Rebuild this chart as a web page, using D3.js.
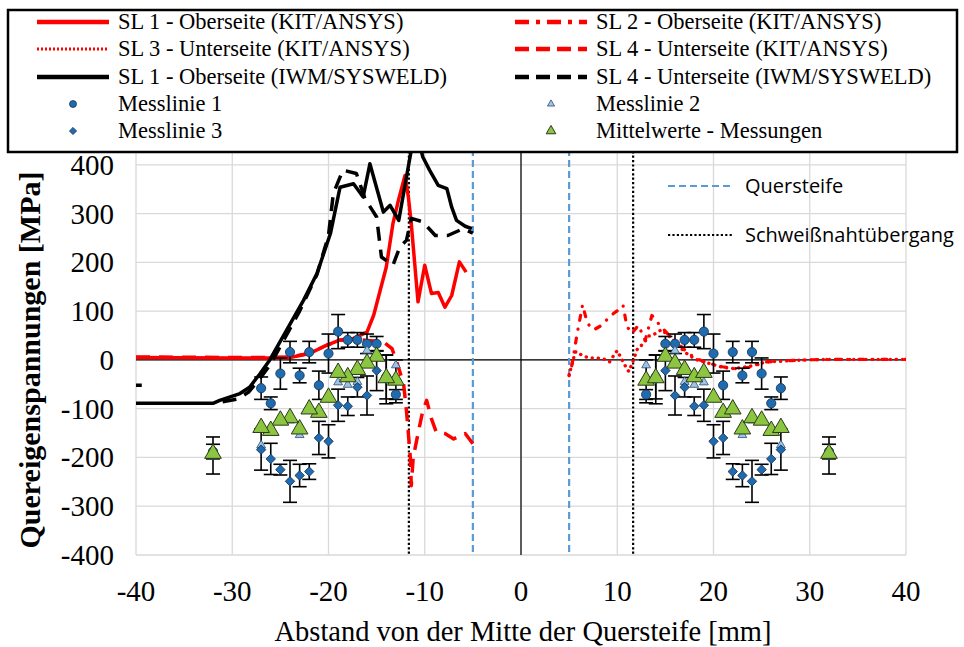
<!DOCTYPE html>
<html>
<head>
<meta charset="utf-8">
<script src="https://cdn.jsdelivr.net/npm/d3@7"></script>
<style>
  body { margin: 0; background: #fff; }
  svg { display: block; }
  text { font-family: "Liberation Serif", "DejaVu Serif", serif; fill: #000; }
</style>
</head>
<body>
<figure id="chart" style="margin:0"></figure>
<script>
// --- data ---
const xTicks = [-40, -30, -20, -10, 0, 10, 20, 30, 40];
const yTicks = [-400, -300, -200, -100, 0, 100, 200, 300, 400];

// measurement positions (mm from stiffener centre), plotted on both sides
const measDist = [13, 14, 15, 16, 17, 18, 19, 20, 21, 22, 23, 24, 25, 26, 27, 32];
const messlinie1 = [-71, -35, 33, 33, 41, 41, 58, 13, -52, 16, -32, 16, -28, -89, -58, -188];
const messlinie1Err = [10, 45, 15, 20, 15, 15, 35, 40, 29, 22, 15, 22, 32, 13, 23, 15];
const messlinie2 = [-11, -36, 11, 19, -45, -51, -46, -74, -109, -94, -154, -124, -119, -143, -175, -190];
const messlinie3 = [-44, -40, -22, -73, -56, -95, -93, -167, -160, -229, -237, -249, -225, -203, -184, -196];
const messlinie3Err = [44, 50, 41, 40, 20, 19, 33, 34, 34, 16, 23, 43, 11, 32, 42, 38];
const mittelwerte = [-42, -37, 7, -7, -20, -35, -26, -77, -108, -101, -142, -119, -124, -145, -139, -192];

// SL 1 - Oberseite (KIT/ANSYS)
const kitSL1X = [-40, -30, -26, -24, -22, -20.2, -18.8, -17.4, -16, -15.3, -14, -13.3, -12.7, -12.05, -11.7, -11.4, -10.7, -10, -9.3, -8.6, -7.9, -7.2, -6.4, -5.7];
const kitSL1Y = [5, 4, 4, 5, 13, 30, 41, 44, 57, 92, 190, 280, 330, 378, 334, 279, 119, 194, 136, 138, 108, 132, 201, 180];
// SL 2 - Oberseite (KIT/ANSYS)
const kitSL2X = [5.0, 5.3, 5.8, 6.4, 6.8, 7.2, 7.6, 8.3, 8.9, 9.6, 10.3, 10.6, 11.0, 11.5, 12.2, 12.9, 13.6, 14.6, 15.5, 16.5, 17.4, 18.3, 19.7, 20.9, 22.2, 23.8, 25.5, 27.5, 29.6, 32, 35, 38, 40];
const kitSL2Y = [-30, -10, 50, 113, 82, 66, 62, 70, 82, 95, 105, 112, 69, 54, 71, 40, 91, 67, 48, 30, 13, 2, -8, -14, -18, -15, -4, -2, 0, 1, 1, 1, 1];
// SL 3 - Unterseite (KIT/ANSYS)
const kitSL3X = [5.0, 5.2, 5.4, 5.7, 6.2, 7.0, 7.8, 8.6, 9.2, 9.7, 10.0, 10.4, 10.8, 11.2, 11.6, 12.1, 12.7, 13.3, 13.8, 14.6, 15.5, 16.5, 17.4, 18.3, 19.7, 20.9, 22.2, 23.8, 25.5, 27.5, 29.6, 32, 35, 38, 40];
const kitSL3Y = [-32, -16, 0, 17, 11, 4, 4, 2, -4, 11, 19, 4, -11, -24, -5, 23, 33, 49, 52, 62, 47, 26, 10, 0, -8, -15, -18, -13, -4, -2, 0, 1, 1, 1, 1];
// SL 4 - Unterseite (KIT/ANSYS)
const kitSL4X = [-40, -30, -26, -24, -22, -20.2, -18.8, -17.4, -16, -14.3, -13.4, -12.9, -12.2, -11.9, -11.7, -11.5, -11.4, -11.2, -10.7, -10.2, -9.8, -9.3, -8.8, -7.9, -7.0, -5.8, -5.0];
const kitSL4Y = [6, 5, 5, 6, 13, 30, 40, 42, 40, 37, 23, -5, -49, -104, -151, -200, -258, -200, -151, -104, -83, -121, -148, -151, -162, -151, -172];
// SL 1 - Oberseite (IWM/SYSWELD)
const iwmSL1X = [-40, -32, -31.3, -29.2, -28.2, -27.1, -26.1, -22.6, -21.2, -19.8, -18.8, -17.4, -16.4, -15.7, -14.3, -13.6, -12.7, -11.9, -11.4, -10.7, -10.2, -9.5, -8.6, -7.7, -7.2, -6.7, -5.8, -5.1];
const iwmSL1Y = [-89, -89, -83, -69, -56, -28, 0, 122, 177, 259, 354, 361, 334, 402, 303, 317, 286, 375, 430, 455, 416, 389, 358, 351, 313, 286, 274, 269];
// SL 4 - Unterseite (IWM/SYSWELD), null = gap in the series
const iwmSL4X = [-40, -39.4, -35, -31, -29.4, -28.3, -27, -26, -23, -21.2, -20, -19.5, -18.5, -17.1, -16.2, -15, -14.5, -13.3, -12.6, -11.9, -11.4, -10.2, -8.9, -7.6, -6, -5];
const iwmSL4Y = [-52, -52, null, -86, -80, -66, -35, -8, 100, 175, 255, 341, 389, 382, 330, 293, 211, 194, 231, 245, 290, 283, 255, 255, 269, 260];

// reference lines
const quersteifeX = [-5, 5];
const nahtX = [-11.65, 11.65];

// --- layout ---
const width = 964, height = 647;
const plot = { left: 136, right: 906, top: 116, bottom: 555 };

const svg = d3.select("#chart").append("svg")
  .attr("width", width)
  .attr("height", height);

const x = d3.scaleLinear().domain([-40, 40]).range([plot.left, plot.right]);
const y = d3.scaleLinear().domain([-400, 500]).range([plot.bottom, plot.top]);

svg.append("clipPath").attr("id", "clip")
  .append("rect")
  .attr("x", plot.left).attr("y", plot.top)
  .attr("width", plot.right - plot.left).attr("height", plot.bottom - plot.top);

// gridlines
const grid = svg.append("g");
grid.selectAll(".hgrid").data(d3.range(-400, 501, 100)).enter().append("line")
  .attr("x1", plot.left).attr("x2", plot.right)
  .attr("y1", d => y(d)).attr("y2", d => y(d))
  .attr("stroke", "#d9d9d9").attr("stroke-width", 1.3);
grid.selectAll(".vgrid").data(xTicks).enter().append("line")
  .attr("x1", d => x(d)).attr("x2", d => x(d))
  .attr("y1", plot.top).attr("y2", plot.bottom)
  .attr("stroke", "#d9d9d9").attr("stroke-width", 1.3);

// axes through zero
svg.append("line")
  .attr("x1", plot.left).attr("x2", plot.right)
  .attr("y1", y(0)).attr("y2", y(0))
  .attr("stroke", "#000").attr("stroke-width", 1.2);
svg.append("line")
  .attr("x1", x(0)).attr("x2", x(0))
  .attr("y1", plot.top).attr("y2", plot.bottom)
  .attr("stroke", "#000").attr("stroke-width", 1.2);

// tick labels
svg.append("g").selectAll("text").data(xTicks).enter().append("text")
  .attr("x", d => x(d)).attr("y", 601)
  .attr("text-anchor", "middle")
  .style("font-size", "29px")
  .text(d => d);
svg.append("g").selectAll("text").data(yTicks).enter().append("text")
  .attr("x", 114).attr("y", d => y(d) + 10)
  .attr("text-anchor", "end")
  .style("font-size", "29px")
  .text(d => d);

// axis titles
svg.append("text")
  .attr("x", 523).attr("y", 641)
  .attr("text-anchor", "middle")
  .style("font-size", "28.5px")
  .text("Abstand von der Mitte der Quersteife [mm]");
svg.append("text")
  .attr("transform", "translate(40,360) rotate(-90)")
  .attr("text-anchor", "middle")
  .style("font-size", "30px")
  .style("font-weight", "bold")
  .text("Quereigenspannungen [MPa]");

const body = svg.append("g").attr("clip-path", "url(#clip)");

// vertical reference lines
body.selectAll(".quer").data(quersteifeX).enter().append("line")
  .attr("x1", d => x(d)).attr("x2", d => x(d))
  .attr("y1", plot.top).attr("y2", plot.bottom)
  .attr("stroke", "#5b9bd5").attr("stroke-width", 2.2)
  .attr("stroke-dasharray", "7,4");
body.selectAll(".naht").data(nahtX).enter().append("line")
  .attr("x1", d => x(d)).attr("x2", d => x(d))
  .attr("y1", plot.top).attr("y2", plot.bottom)
  .attr("stroke", "#000").attr("stroke-width", 2.2)
  .attr("stroke-dasharray", "2.2,2.2");

// simulation lines
const line = d3.line()
  .defined(d => d[1] !== null)
  .x(d => x(d[0])).y(d => y(d[1]));

function drawLine(xs, ys, color, w, dash, cap) {
  body.append("path")
    .datum(d3.zip(xs, ys))
    .attr("d", line)
    .attr("fill", "none")
    .attr("stroke", color)
    .attr("stroke-width", w)
    .attr("stroke-dasharray", dash)
    .attr("stroke-linecap", cap || "butt")
    .attr("stroke-linejoin", "round");
}

drawLine(kitSL1X, kitSL1Y, "#ff0000", 3.5, null);
drawLine(kitSL2X, kitSL2Y, "#ff0000", 3.2, "0.1,9,5,9", "round");
drawLine(kitSL3X, kitSL3Y, "#ff0000", 3.4, "0.1,6", "round");
drawLine(kitSL4X, kitSL4Y, "#ff0000", 3.5, "14,9");
drawLine(iwmSL1X, iwmSL1Y, "#000", 3.5, null);
drawLine(iwmSL4X, iwmSL4Y, "#000", 3.5, "14,9");

// measurements, mirrored on both sides of the stiffener
const sides = [-1, 1];
function pointsOf(vals, errs) {
  const pts = [];
  sides.forEach(s => measDist.forEach((d, i) => {
    pts.push({ x: s * d, y: vals[i], e: errs ? errs[i] : 0 });
  }));
  return pts;
}

function drawErrors(pts) {
  const g = body.append("g").attr("stroke", "#000").attr("stroke-width", 1.6);
  pts.forEach(p => {
    g.append("line")
      .attr("x1", x(p.x)).attr("x2", x(p.x))
      .attr("y1", y(p.y - p.e)).attr("y2", y(p.y + p.e));
    [p.y - p.e, p.y + p.e].forEach(v => {
      g.append("line")
        .attr("x1", x(p.x) - 7).attr("x2", x(p.x) + 7)
        .attr("y1", y(v)).attr("y2", y(v));
    });
  });
}

const m1 = pointsOf(messlinie1, messlinie1Err);
const m2 = pointsOf(messlinie2);
const m3 = pointsOf(messlinie3, messlinie3Err);
const mean = pointsOf(mittelwerte);

drawErrors(m1);
drawErrors(m3);

body.selectAll(".m1").data(m1).enter().append("circle")
  .attr("cx", d => x(d.x)).attr("cy", d => y(d.y))
  .attr("r", 4.6)
  .attr("fill", "#1f6bb0").attr("stroke", "#1b3a5c").attr("stroke-width", 0.9);

const triSmall = d3.symbol().type(d3.symbolTriangle).size(34);
body.selectAll(".m2").data(m2).enter().append("path")
  .attr("d", triSmall)
  .attr("transform", d => `translate(${x(d.x)},${y(d.y)})`)
  .attr("fill", "#9dc3e6").attr("stroke", "#2f4f6f").attr("stroke-width", 0.8);

const diamond = d3.symbol().type(d3.symbolSquare).size(44);
body.selectAll(".m3").data(m3).enter().append("path")
  .attr("d", diamond)
  .attr("transform", d => `translate(${x(d.x)},${y(d.y)}) rotate(45)`)
  .attr("fill", "#1f6bb0").attr("stroke", "#1b3a5c").attr("stroke-width", 0.9);

const triBig = d3.symbol().type(d3.symbolTriangle).size(120);
body.selectAll(".mean").data(mean).enter().append("path")
  .attr("d", triBig)
  .attr("transform", d => `translate(${x(d.x)},${y(d.y)})`)
  .attr("fill", "#8cc540").attr("stroke", "#2b3a1a").attr("stroke-width", 1);

// inner legend for reference lines
const ref = svg.append("g");
ref.append("line").attr("x1", 668).attr("x2", 733).attr("y1", 186).attr("y2", 186)
  .attr("stroke", "#5b9bd5").attr("stroke-width", 2.2).attr("stroke-dasharray", "7,4");
ref.append("line").attr("x1", 668).attr("x2", 733).attr("y1", 235).attr("y2", 235)
  .attr("stroke", "#000").attr("stroke-width", 2.2).attr("stroke-dasharray", "2.2,2.2");
ref.append("text").attr("x", 745).attr("y", 193)
  .style("font-family", "'Open Sans', 'Liberation Sans', sans-serif").style("font-size", "20px")
  .text("Quersteife");
ref.append("text").attr("x", 745).attr("y", 242)
  .style("font-family", "'Open Sans', 'Liberation Sans', sans-serif").style("font-size", "20px")
  .text("Schweißnahtübergang");

// main legend
const leg = svg.append("g");
leg.append("rect")
  .attr("x", 8).attr("y", 10).attr("width", 949).attr("height", 142)
  .attr("fill", "#fff").attr("stroke", "#000").attr("stroke-width", 2.5);

const rows = [22, 49, 77, 104, 131];
const cols = [{ s: 37, t: 118 }, { s: 515, t: 596 }];
const legendItems = [
  { label: "SL 1 - Oberseite (KIT/ANSYS)", type: "line", color: "#ff0000", dash: null },
  { label: "SL 2 - Oberseite (KIT/ANSYS)", type: "line", color: "#ff0000", dash: "14,7,4,7" },
  { label: "SL 3 - Unterseite (KIT/ANSYS)", type: "line", color: "#ff0000", dash: "2,2", w: 3 },
  { label: "SL 4 - Unterseite (KIT/ANSYS)", type: "line", color: "#ff0000", dash: "14,7" },
  { label: "SL 1 - Oberseite (IWM/SYSWELD)", type: "line", color: "#000", dash: null },
  { label: "SL 4 - Unterseite (IWM/SYSWELD)", type: "line", color: "#000", dash: "14,7" },
  { label: "Messlinie 1", type: "circle" },
  { label: "Messlinie 2", type: "tri" },
  { label: "Messlinie 3", type: "diamond" },
  { label: "Mittelwerte - Messungen", type: "mean" }
];

legendItems.forEach((it, i) => {
  const c = cols[i % 2], ry = rows[Math.floor(i / 2)];
  const mx = c.s + 36;
  if (it.type === "line") {
    leg.append("line").attr("x1", c.s).attr("x2", c.s + 72)
      .attr("y1", ry).attr("y2", ry)
      .attr("stroke", it.color).attr("stroke-width", it.w || 4.5)
      .attr("stroke-dasharray", it.dash);
  } else if (it.type === "circle") {
    leg.append("circle").attr("cx", mx).attr("cy", ry).attr("r", 3.5)
      .attr("fill", "#1f6bb0").attr("stroke", "#1b3a5c").attr("stroke-width", 0.8);
  } else if (it.type === "tri") {
    leg.append("path").attr("d", d3.symbol().type(d3.symbolTriangle).size(22))
      .attr("transform", `translate(${mx},${ry})`)
      .attr("fill", "#9dc3e6").attr("stroke", "#2f4f6f").attr("stroke-width", 0.8);
  } else if (it.type === "diamond") {
    leg.append("path").attr("d", d3.symbol().type(d3.symbolSquare).size(26))
      .attr("transform", `translate(${mx},${ry}) rotate(45)`)
      .attr("fill", "#1f6bb0").attr("stroke", "#1b3a5c").attr("stroke-width", 0.8);
  } else {
    leg.append("path").attr("d", d3.symbol().type(d3.symbolTriangle).size(40))
      .attr("transform", `translate(${mx},${ry})`)
      .attr("fill", "#8cc540").attr("stroke", "#2b3a1a").attr("stroke-width", 1);
  }
  leg.append("text").attr("x", c.t).attr("y", ry + 7)
    .style("font-size", "22.5px")
    .text(it.label);
});
</script>
</body>
</html>
